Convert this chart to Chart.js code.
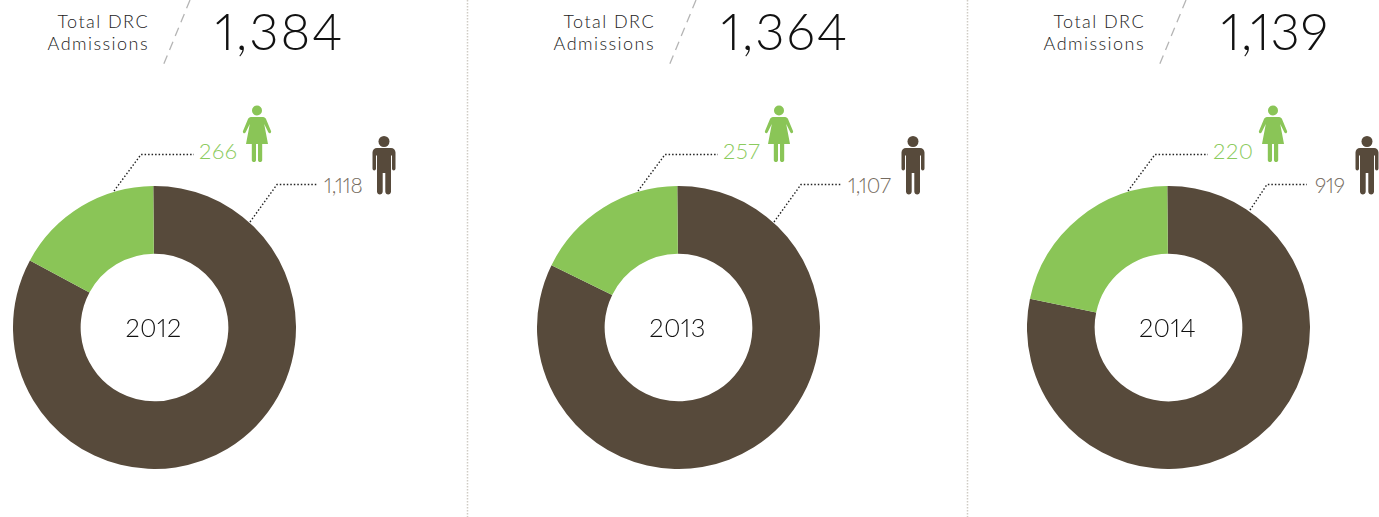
<!DOCTYPE html>
<html><head><meta charset="utf-8">
<script src="https://cdn.jsdelivr.net/npm/chart.js@4"></script>
<style>
html,body{margin:0;padding:0;background:#fff;width:1379px;height:517px;overflow:hidden}
body{position:relative;font-family:Lato,"Open Sans",sans-serif;font-weight:300;font-feature-settings:"pnum" 1,"lnum" 1}
canvas{position:absolute}
svg{position:absolute;left:0;top:0}
.t{position:absolute;white-space:nowrap;line-height:1}
.lab{font-size:18px;letter-spacing:1.45px;color:#222;text-align:right;line-height:22px;font-weight:300}
.tot{font-size:51px;color:#111;font-weight:300}
.yr{font-size:25.5px;color:#111;transform:translateX(-50%);letter-spacing:.3px;font-weight:300}
.w{font-size:22px;color:#8ccb5e;letter-spacing:.6px}
.m{font-size:21px;color:#756b60;letter-spacing:-.2px}
</style></head><body>
<svg id="ov" width="1379" height="517"><defs>
<symbol id="fem" overflow="visible">
<circle cx="0" cy="5.500" r="5"/>
<path d="M-6 12H6C7.500 12 8.500 13 9 14L14 26C14.800 28 12.300 29.200 11.300 27.300L7.200 19 11 39H5.200V55C5.200 57.800 1 57.800 1 55V39H-1V55C-1 57.800-5.200 57.800-5.200 55V39H-11L-7.200 19-11.300 27.300C-12.300 29.200-14.800 28-14 26L-9 14C-8.500 13-7.500 12-6 12Z"/>
</symbol>
<symbol id="mal" overflow="visible">
<circle cx="0" cy="5.500" r="5.500"/>
<path d="M-7 12H7C9.500 12 11.500 14 11.500 16.500V32.500C11.500 35 8 35 8 32.500V19.500H7V55.500C7 59.500 1.300 59.500 1.300 55.500V37H-1.300V55.500C-1.300 59.500-7 59.500-7 55.500V19.500H-8V32.500C-8 35-11.500 35-11.500 32.500V16.500C-11.500 14-9.500 12-7 12Z"/>
</symbol>
</defs></svg>
<script>
const years = ['2012', '2013', '2014'];
const totals = ['1,384', '1,364', '1,139'];
const menLabels = ['1,118', '1,107', '919'];
const womenLabels = ['266', '257', '220'];
const categories = ['Men', 'Women'];
// slice shares as actually drawn in the picture (percent of the ring)
const menShare = [83.0, 82.4, 78.4];
const womenShare = [17.0, 17.6, 21.6];
const colors = ['#574a3b', '#8ac557'];

// page layout of the three panels (annotation placement only)
const chartLeft = [13, 537, 1027];
const chartTop = 186, chartSize = 283;
const labelRight = [149, 655, 1145];
const totalLeft = [215, 721, 1221];
const totalSpacing = [1.9, 1.9, 0.8];
const slashX = [190, 696, 1186];
const femaleX = [257, 779, 1273];
const maleX = [384, 913, 1367];
const womenLabelX = [199, 723, 1213];
const menLabelX = [324, 848, 1315];
const womenLeader = [[114,191,141,154.500,194,154.500],[638,191,665,154.500,718,154.500],[1128,191,1155,154.500,1208,154.500]];
const menLeader = [[250,222,277,184.500,317,184.500],[774,222,801,184.500,841,184.500],[1250,210,1267,184.500,1307,184.500]];
const dividers = [467.5, 967.5];

const ov = document.getElementById('ov');
const NS = 'http://www.w3.org/2000/svg';
function el(tag, attrs){const e=document.createElementNS(NS,tag);for(const k in attrs)e.setAttribute(k,attrs[k]);ov.appendChild(e);return e;}
function txt(cls, s, x, y, right){const d=document.createElement('div');d.className='t '+cls;d.innerHTML=s;d.style.top=y+'px';
  if(right!==undefined){d.style.right=(1379-right)+'px';}else{d.style.left=x+'px';}document.body.appendChild(d);return d;}

dividers.forEach(x=>el('line',{x1:x,y1:0,x2:x,y2:517,stroke:'#cfcbc4','stroke-width':1.5,'stroke-dasharray':'1.500 1.500'}));

years.forEach((yr,i)=>{
  const c=document.createElement('canvas');
  c.style.left=chartLeft[i]+'px';c.style.top=chartTop+'px';
  c.width=chartSize;c.height=chartSize;c.style.width=chartSize+'px';c.style.height=chartSize+'px';
  document.body.appendChild(c);
  new Chart(c,{type:'doughnut',
    data:{labels:categories,datasets:[{data:[menShare[i],womenShare[i]],backgroundColor:colors,borderWidth:0}]},
    options:{responsive:false,animation:false,cutout:'52.2%',rotation:-0.5,layout:{padding:0},
      plugins:{legend:{display:false},tooltip:{enabled:false}}}});

  txt('lab','Total DRC<br>Admissions',0,10,labelRight[i]);
  txt('tot',totals[i],totalLeft[i],5).style.letterSpacing=totalSpacing[i]+'px';
  txt('yr',yr,chartLeft[i]+chartSize/2-1,315);
  txt('w',womenLabels[i],womenLabelX[i],140);
  txt('m',menLabels[i],menLabelX[i],174);

  el('line',{x1:slashX[i],y1:0,x2:slashX[i]-27,y2:66,stroke:'#b5b5b5','stroke-width':1.3,'stroke-dasharray':'9 6'});
  [womenLeader[i],menLeader[i]].forEach(p=>{
    el('polyline',{points:`${p[0]},${p[1]} ${p[2]},${p[3]} ${p[4]},${p[5]}`,fill:'none',stroke:'#222','stroke-width':1.4,'stroke-dasharray':'1.500 2'});
  });
  el('use',{href:'#fem',x:femaleX[i],y:105,fill:'#8ac557'});
  el('use',{href:'#mal',x:maleX[i],y:136,fill:'#574a3b'});
});
</script>
</body></html>
